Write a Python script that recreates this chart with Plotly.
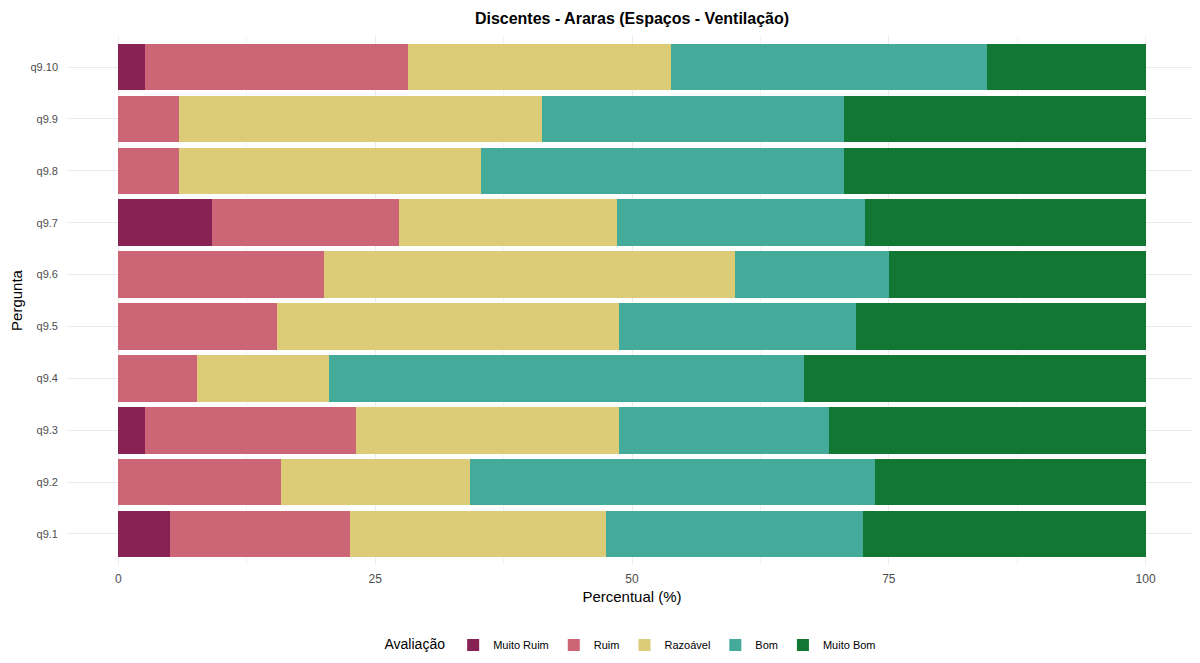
import plotly.graph_objects as go

# respostas por pergunta (percentual)
perguntas = ["q9.1", "q9.2", "q9.3", "q9.4", "q9.5", "q9.6", "q9.7", "q9.8", "q9.9", "q9.10"]
categorias = ["Muito Ruim", "Ruim", "Razoável", "Bom", "Muito Bom"]
cores = ["#882255", "#CC6677", "#DDCC77", "#44AA99", "#117733"]

muito_ruim = [5.0, 0.0, 2.6, 0.0, 0.0, 0.0, 9.1, 0.0, 0.0, 2.6]
ruim = [17.5, 15.8, 20.5, 7.7, 15.4, 20.0, 18.2, 5.9, 5.9, 25.6]
razoavel = [25.0, 18.4, 25.6, 12.8, 33.3, 40.0, 21.2, 29.4, 35.3, 25.6]
bom = [25.0, 39.5, 20.5, 46.2, 23.1, 15.0, 24.2, 35.3, 29.4, 30.8]
muito_bom = [27.5, 26.3, 30.8, 33.3, 28.2, 25.0, 27.3, 29.4, 29.4, 15.4]

valores = [muito_ruim, ruim, razoavel, bom, muito_bom]

fig = go.Figure()
for nome, cor, vals in zip(categorias, cores, valores):
    fig.add_trace(
        go.Bar(
            y=perguntas,
            x=vals,
            name=nome,
            orientation="h",
            marker=dict(color=cor, line=dict(width=0)),
            width=0.9,
        )
    )

# the page body has an 8px margin, so the figure is sized to fit the window
fig.update_layout(
    width=1192,
    height=655,
    barmode="stack",
    plot_bgcolor="white",
    paper_bgcolor="white",
    font=dict(family="Liberation Sans, Arial, sans-serif", color="#4d4d4d", size=11),
    title=dict(
        text="<b>Discentes - Araras (Espaços - Ventilação)</b>",
        x=0.5,
        xref="paper",
        xanchor="center",
        y=1 - 10 / 655,
        yanchor="middle",
        font=dict(size=16, color="black"),
    ),
    margin=dict(l=59, r=3, t=28, b=98),
    legend=dict(
        orientation="h",
        x=0.5,
        xanchor="center",
        y=-0.151,
        yanchor="middle",
        title=dict(text="Avaliação", font=dict(size=14, color="black")),
        font=dict(size=11, color="black"),
        traceorder="normal",
    ),
    xaxis=dict(
        range=[-5, 105],
        tickvals=[0, 25, 50, 75, 100],
        showgrid=True,
        gridcolor="#ebebeb",
        gridwidth=1,
        minor=dict(tickvals=[12.5, 37.5, 62.5, 87.5], showgrid=True, gridcolor="#f3f3f3", gridwidth=0.5),
        zeroline=False,
        ticks="",
        ticklabelstandoff=5,
        automargin=False,
        title=dict(text="Percentual (%)", font=dict(size=15, color="black"), standoff=6),
        tickfont=dict(size=12, color="#4d4d4d"),
    ),
    yaxis=dict(
        categoryorder="array",
        categoryarray=perguntas,
        range=[-0.6, 9.6],
        showgrid=True,
        gridcolor="#ebebeb",
        gridwidth=1,
        ticks="",
        ticklabelstandoff=8,
        automargin=False,
        title=dict(text="Pergunta", font=dict(size=15, color="black"), standoff=4),
        tickfont=dict(size=11, color="#4d4d4d"),
    ),
)

fig.write_html("out.html")
